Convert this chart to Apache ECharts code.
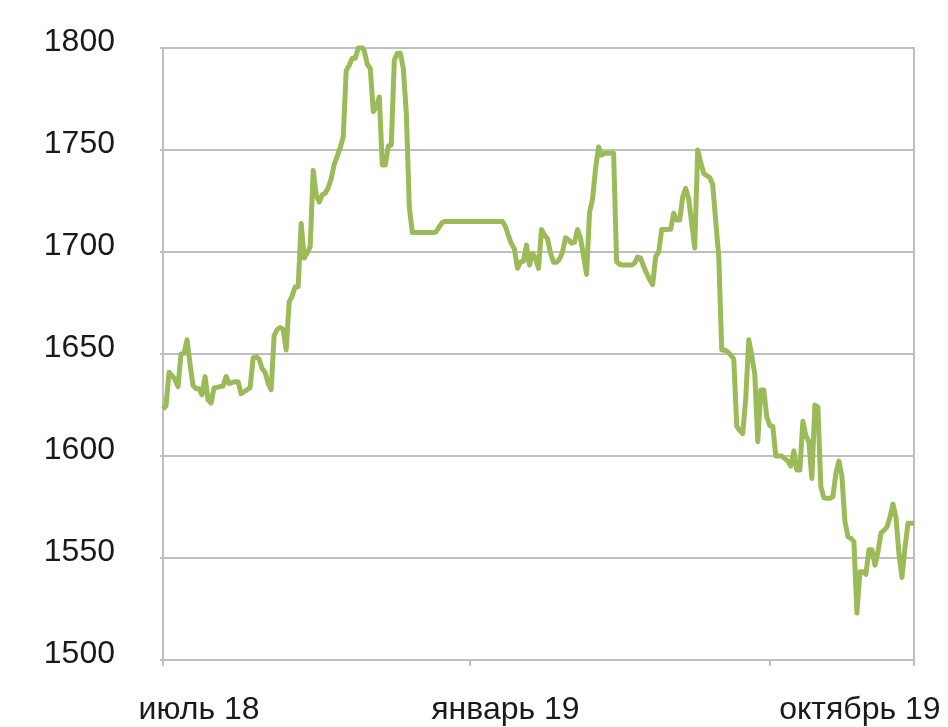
<!DOCTYPE html>
<html>
<head>
<meta charset="utf-8">
<script src="https://cdn.jsdelivr.net/npm/echarts@6/dist/echarts.min.js"></script>
<style>
    html, body { margin: 0; padding: 0; background: #fff; }
    #chart { width: 948px; height: 727px; }
</style>
</head>
<body>
<div id="chart"></div>
<script>
// значения ряда (по точкам, слева направо)
var values = [
    1623, 1624.5, 1641, 1639.5, 1637.5, 1634, 1650, 1650.3, 1657, 1645,
    1634.5, 1633, 1633, 1630, 1638.9, 1627.5, 1626, 1633.3, 1633.6, 1634,
    1634.3, 1639, 1635.5, 1636, 1636.4, 1636.4, 1630.5, 1631.5, 1632.5, 1633.5,
    1648, 1648.7, 1647.5, 1642.8, 1641, 1635.6, 1632.5, 1659, 1662, 1663,
    1662, 1652, 1675.5, 1678.5, 1683, 1683, 1714, 1697, 1699.5, 1702.6,
    1740, 1728, 1724.5, 1728, 1728.8, 1731.5, 1736, 1743, 1747, 1751,
    1756.5, 1789, 1791.5, 1795, 1795, 1800, 1801, 1798.5, 1792, 1790,
    1768.8, 1771, 1776, 1742.6, 1742.6, 1751.9, 1752.5, 1794, 1797.4, 1797.4,
    1790, 1768, 1722, 1709.5, 1709.5, 1709.5, 1709.5, 1709.5, 1709.5, 1709.5,
    1709.5, 1710, 1712.5, 1714.5, 1715, 1715, 1715, 1715, 1715, 1715,
    1715, 1715, 1715, 1715, 1715, 1715, 1715, 1715, 1715, 1715,
    1715, 1715, 1715, 1715, 1712.5, 1708, 1704, 1701.5, 1692, 1695,
    1695.5, 1703.4, 1693.6, 1699.4, 1697, 1692, 1711, 1708.3, 1706.5, 1699.5,
    1695, 1695, 1696.5, 1700, 1707, 1706, 1704.3, 1704.8, 1711, 1706.7,
    1698, 1689, 1719.5, 1726, 1741, 1751.5, 1747.5, 1748.4, 1748.4, 1748.4,
    1748.4, 1695.2, 1694, 1693.6, 1693.6, 1693.6, 1693.6, 1694.5, 1697.5, 1697,
    1693, 1689.5, 1686.5, 1684, 1697.7, 1700, 1711, 1711, 1711, 1711.1,
    1719, 1715.7, 1715.7, 1727, 1731.2, 1726, 1714, 1702, 1750, 1744,
    1738.5, 1737.4, 1736.5, 1733, 1715, 1698, 1652, 1652, 1651, 1649.5,
    1647.5, 1614.6, 1612.5, 1611, 1628.5, 1657, 1649, 1640, 1607, 1632.4,
    1632.4, 1619, 1615, 1614.4, 1600, 1600, 1600, 1598.7, 1597.5, 1595,
    1602.5, 1593.1, 1593.1, 1617, 1610, 1607, 1589, 1625, 1624, 1585,
    1579.5, 1579.3, 1579.3, 1580, 1591.5, 1597.5, 1590, 1568, 1560.5, 1559.6,
    1558, 1523, 1543.3, 1543.3, 1542, 1554, 1554, 1546.5, 1553, 1562.2,
    1563.5, 1565.3, 1570, 1576.4, 1570, 1552, 1540.5, 1555, 1567, 1567,
    1567
];

// подписи оси X и где они стоят
var labelText = ['июль 18', 'январь 19', 'октябрь 19'];
var labelIdx = [12, 114, 232];
// засечки оси X
var tickIdx = [0, 102, 202, 250];

// шкала Y
var yMin = 1500, yMax = 1800, yStep = 50;

var categories = values.map(function (v, i) {
    var k = labelIdx.indexOf(i);
    return k >= 0 ? labelText[k] : String(i);
});

var fontName = "'Liberation Sans', Arial, sans-serif";
var gridColor = '#bfbfbf';
var textColor = '#1a1a1a';

var chart = echarts.init(document.getElementById('chart'), null, {renderer: 'canvas'});
chart.setOption({
    animation: false,
    backgroundColor: '#fff',
    grid: {
        left: 163, top: 48, width: 751, height: 612,
        show: true, borderColor: gridColor, borderWidth: 2, backgroundColor: 'transparent'
    },
    xAxis: {
        type: 'category',
        data: categories,
        boundaryGap: false,
        axisLine: {lineStyle: {color: gridColor, width: 2}},
        axisTick: {
            show: true, length: 6,
            interval: function (i) { return tickIdx.indexOf(i) >= 0; },
            lineStyle: {color: gridColor, width: 2}
        },
        axisLabel: {
            interval: function (i) { return labelIdx.indexOf(i) >= 0; },
            margin: 34,
            color: textColor,
            fontSize: 32,
            fontFamily: fontName
        },
        splitLine: {show: false}
    },
    yAxis: {
        type: 'value',
        min: yMin, max: yMax, interval: yStep,
        axisLine: {show: true, lineStyle: {color: gridColor, width: 2}},
        axisTick: {show: true, length: 3, lineStyle: {color: gridColor, width: 2}},
        axisLabel: {
            margin: 48,
            // без разделителя тысяч, чуть выше линии
            formatter: function (v) { return '{n|' + v + '}'; },
            rich: {
                n: {
                    color: textColor,
                    fontSize: 32,
                    fontFamily: fontName,
                    padding: [0, 0, 12, 0]
                }
            }
        },
        splitLine: {lineStyle: {color: gridColor, width: 2}}
    },
    series: [{
        type: 'line',
        data: values,
        symbol: 'none',
        lineStyle: {color: '#9bbb59', width: 5, join: 'round'},
        itemStyle: {color: '#9bbb59'}
    }]
});
</script>
</body>
</html>
